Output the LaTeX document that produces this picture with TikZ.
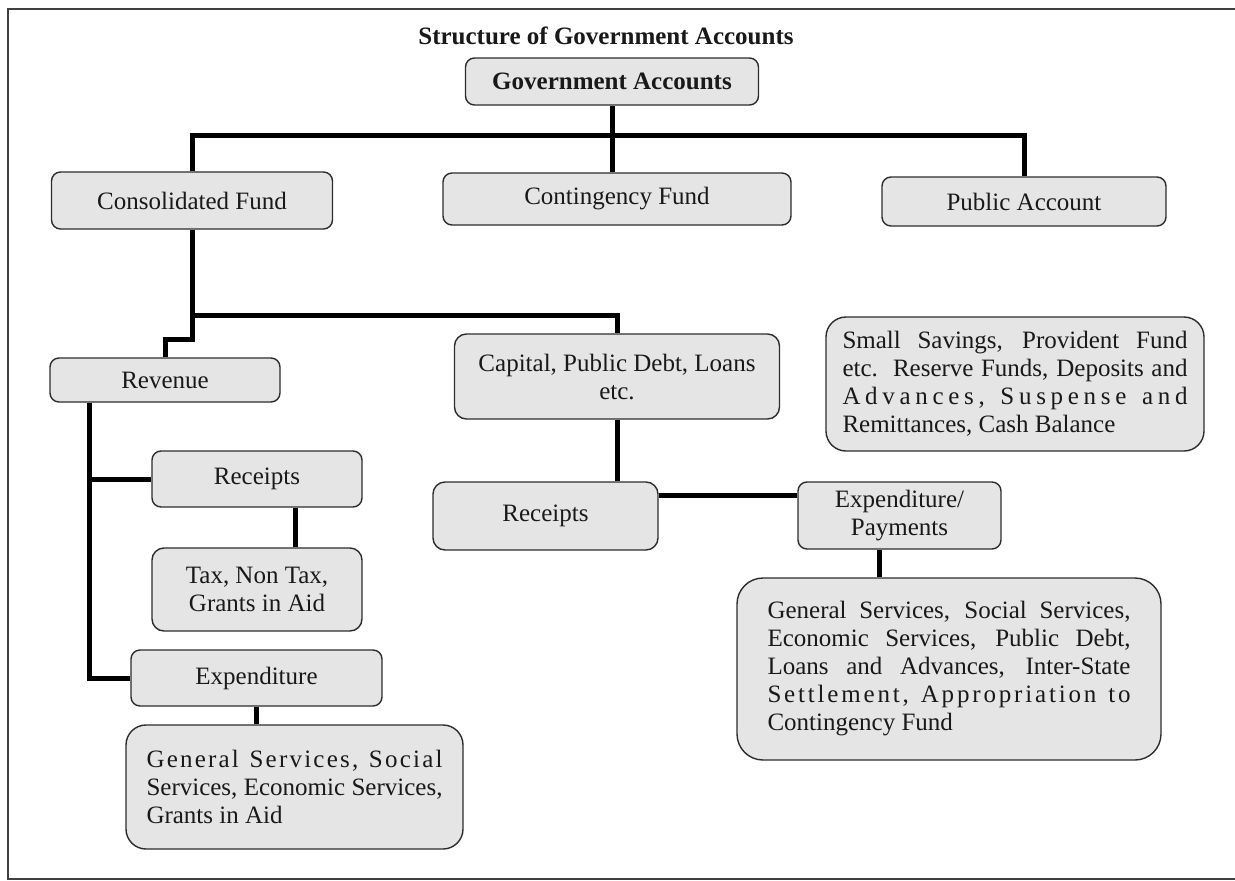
\documentclass[tikz,border=0pt]{standalone}
\usepackage{fontspec}
\setmainfont{Liberation Serif}
\usetikzlibrary{calc,backgrounds}
\definecolor{boxfill}{RGB}{229,229,229}
\definecolor{boxline}{RGB}{45,45,45}
\definecolor{txt}{RGB}{25,25,25}
\def\lspA#1{\ifx#1\relax\else#1\hskip0pt plus1fil\relax\expandafter\lspA\fi}
\newcommand\spreadline[2]{\makebox[#1][s]{\lspA#2\relax\unskip}}
\newcommand\fullline[2]{\makebox[#1][s]{#2}}
\tikzset{
  box/.style={draw=boxline, line width=1.4pt, fill=boxfill, rounded corners=9pt,
    inner sep=0pt, text=txt, font=\fontsize{25}{28}\selectfont, align=center},
  conn/.style={line width=5pt, draw=black, line join=miter},
  framestyle/.style={line width=2pt, draw=black!75},
}
\begin{document}
\begin{tikzpicture}[x=1pt,y=-1pt]
\useasboundingbox (0,0) rectangle (1235,881);
\draw[framestyle] (1235,9) -- (8,9) -- (8,879) -- (1235,879);

\node[text=txt, font=\fontsize{25}{28}\selectfont\bfseries] (title) at (606,36) {Structure of Government Accounts};
\node[box, minimum width=293pt, minimum height=47pt, font=\fontsize{25}{28}\selectfont\bfseries] (ga) at (612,81.5) {Government Accounts};

\node[box, minimum width=281pt, minimum height=57pt] (cf) at (192,200.5) {Consolidated Fund};
\node[box, minimum width=348pt, minimum height=52pt] (cont) at (617,199) {\strut Contingency Fund};
\node[box, minimum width=284pt, minimum height=49pt] (pa) at (1024,201.5) {Public Account};

\node[box, minimum width=230pt, minimum height=44pt] (rev) at (165,380) {Revenue};
\node[box, minimum width=325pt, minimum height=85pt, rounded corners=12pt] (cap) at (617,376.5) {Capital, Public Debt, Loans\\etc.};
\node[box, minimum width=378pt, minimum height=134pt, rounded corners=20pt, align=left] (ss) at (1015,384)
  {\fullline{345pt}{Small Savings, Provident Fund}\\
   \fullline{345pt}{etc.\ \ Reserve Funds, Deposits and}\\
   \spreadline{345pt}{Advances,~Suspense~and}\\
   Remittances, Cash Balance};

\node[box, minimum width=210pt, minimum height=56pt] (recL) at (257,479) {Receipts};
\node[box, minimum width=210pt, minimum height=83pt, rounded corners=12pt] (tax) at (257,589.5) {Tax, Non Tax,\\Grants in Aid};
\node[box, minimum width=251pt, minimum height=56pt] (expL) at (256.5,678) {Expenditure};
\node[box, minimum width=337pt, minimum height=124pt, rounded corners=20pt, align=left] (genL) at (294.5,787)
  {\spreadline{296pt}{General~Services,~Social}\\
   \fullline{296pt}{Services, Economic Services,}\\
   Grants in Aid};

\node[box, minimum width=225pt, minimum height=68pt, rounded corners=12pt] (recR) at (545.5,516) {Receipts};
\node[box, minimum width=203pt, minimum height=67pt] (expP) at (899.5,515.5) {Expenditure/\\Payments};
\node[box, minimum width=424pt, minimum height=182pt, rounded corners=26pt, align=left] (genR) at (949,669)
  {\fullline{363pt}{General Services, Social Services,}\\
   \fullline{363pt}{Economic Services, Public Debt,}\\
   \fullline{363pt}{Loans and Advances, Inter-State}\\
   \spreadline{363pt}{Settlement,~Appropriation~to}\\
   Contingency Fund};

\coordinate (jtop) at (0,135);
\coordinate (jmid) at (0,315);
\coordinate (jstep) at (0,339);
\coordinate (rt) at ($(rev.south west)+(40,0)$);
\coordinate (rl) at ($(recL.south)+(38,0)$);
\coordinate (rr) at ($(recR.north east)+(0,14)$);
\coordinate (ep) at ($(expP.south)+(-20,0)$);

\begin{scope}[on background layer]
\draw[conn] (ga.south) -- (ga.south |- cont.north);
\draw[conn] (cf.north) -- (cf.north |- jtop) -- (pa.north |- jtop) -- (pa.north);
\draw[conn] (cf.south) -- (cf.south |- jstep) -- (rev.north |- jstep) -- (rev.north);
\draw[conn] (cf.south |- jmid) -- (cap.north |- jmid) -- (cap.north);
\draw[conn] (rt) -- (rt |- expL.west) -- (expL.west);
\draw[conn] (rt |- recL.west) -- (recL.west);
\draw[conn] (rl) -- (rl |- tax.north);
\draw[conn] (expL.south) -- (expL.south |- genL.north);
\draw[conn] (cap.south) -- (cap.south |- recR.north);
\draw[conn] (rr) -- (rr -| expP.west);
\draw[conn] (ep) -- (ep |- genR.north);
\end{scope}
\end{tikzpicture}
\end{document}
